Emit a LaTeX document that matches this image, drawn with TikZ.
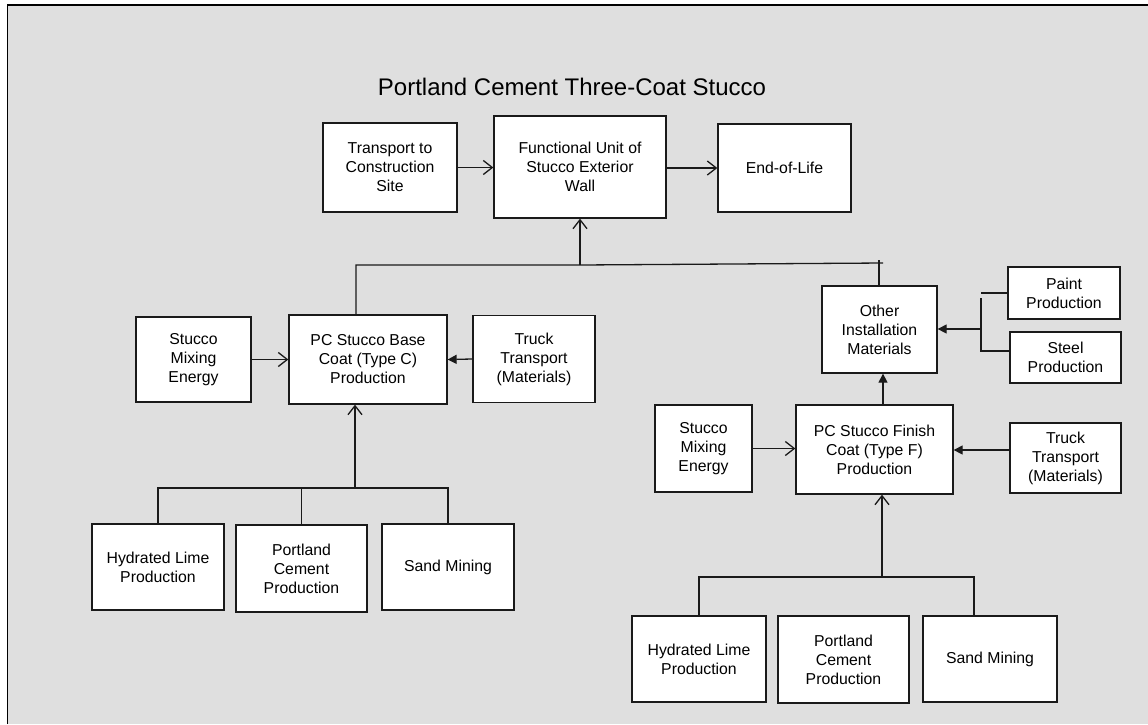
\documentclass[tikz,border=0pt]{standalone}
\usepackage{fontspec}
\setmainfont{Liberation Sans}
\usetikzlibrary{arrows.meta}
\definecolor{bggray}{HTML}{DFDFDF}
\definecolor{linec}{HTML}{1A1A1A}
\begin{document}
\begin{tikzpicture}[x=1pt,y=-1pt,
  box/.style={draw=linec,fill=white,line width=1.3pt,align=center,inner sep=0pt,
    font=\fontsize{15.8}{19}\selectfont},
  conn/.style={draw=linec,line width=1.3pt},
  openarr/.style={conn,-{Straight Barb[length=9pt,width=14pt,line width=1.3pt]}},
  fillarr/.style={conn,-{Triangle[length=9pt,width=9pt]}}]
\useasboundingbox (0,0) rectangle (1148,724);
\fill[white] (0,0) rectangle (1148,724);
\fill[bggray] (7.5,5) rectangle (1148,724);
\draw[black,line width=1.6pt] (7.5,724) -- (7.5,5) -- (1148,5);

\node[font=\fontsize{24}{28}\selectfont,inner sep=0pt] (title) at (572,87) {Portland Cement Three-Coat Stucco};

% top row
\node[box,minimum width=134pt,minimum height=89pt] (tcs) at (390,167.5) {Transport to\\Construction\\Site};
\node[box,minimum width=172pt,minimum height=102pt] (fu) at (580,167) {Functional Unit of\\Stucco Exterior\\Wall};
\node[box,minimum width=133pt,minimum height=88pt] (eol) at (784.5,168) {End-of-Life};

% left middle
\node[box,minimum width=115pt,minimum height=85pt] (smeL) at (193.5,359.5) {Stucco\\Mixing\\Energy};
\node[box,minimum width=158pt,minimum height=89pt] (base) at (368,359.5) {PC Stucco Base\\Coat (Type C)\\Production};
\node[box,minimum width=122pt,minimum height=87pt] (truckL) at (534,359) {Truck\\Transport\\(Materials)};

% left bottom
\node[box,minimum width=132pt,minimum height=86pt] (hlL) at (158,567) {Hydrated Lime\\Production};
\node[box,minimum width=131pt,minimum height=87pt] (pcL) at (301.5,568.5) {Portland\\Cement\\Production};
\node[box,minimum width=132pt,minimum height=86pt] (smL) at (448,567) {Sand Mining};

% right upper
\node[box,minimum width=115pt,minimum height=87pt] (other) at (879.5,329.5) {Other\\Installation\\Materials};
\node[box,minimum width=112pt,minimum height=52pt] (paint) at (1064,293) {Paint\\Production};
\node[box,minimum width=111pt,minimum height=51pt] (steel) at (1065.5,357.5) {Steel\\Production};

% right middle
\node[box,minimum width=97pt,minimum height=87pt] (smeR) at (703.5,448.5) {Stucco\\Mixing\\Energy};
\node[box,minimum width=157pt,minimum height=89pt] (finish) at (874.5,449.5) {PC Stucco Finish\\Coat (Type F)\\Production};
\node[box,minimum width=111pt,minimum height=70pt] (truckR) at (1065.5,458) {Truck\\Transport\\(Materials)};

% right bottom
\node[box,minimum width=134pt,minimum height=86pt] (hlR) at (699,659) {Hydrated Lime\\Production};
\node[box,minimum width=131pt,minimum height=87pt] (pcR) at (843.5,659.5) {Portland\\Cement\\Production};
\node[box,minimum width=134pt,minimum height=86pt] (smR) at (990,659) {Sand Mining};

% top connectors
\draw[openarr] (tcs.east) -- (fu.west |- tcs.east);
\draw[openarr] (fu.east |- eol.west) -- (eol.west);

\coordinate (tl) at (356,265);
\coordinate (tm) at (580,265);
\coordinate (tr) at (879,264);
\draw[conn] (tl |- base.north) -- (tl) -- (tm) -- (883,263);
\draw[conn] (879,260) -- (tr |- other.north);
\draw[openarr] (tm) -- (fu.south);

% left middle connectors
\draw[openarr] (smeL.east) -- (base.west);
\draw[fillarr] (truckL.west) -- (base.east);

% left bottom connectors
\coordinate (jL) at (355,488);
\draw[conn] (hlL.north) -- (hlL.north |- jL) -- (smL.north |- jL) -- (smL.north);
\draw[conn] (pcL.north) -- (pcL.north |- jL);
\draw[openarr] (jL) -- (jL |- base.south);

% right upper connectors
\coordinate (bk) at (981,329);
\coordinate (bs) at (981,351);
\draw[conn] (paint.west) -- (paint.west -| bk);
\draw[conn] (981,298) -- (bs) -- (bs -| steel.west);
\draw[fillarr] (bk) -- (bk -| other.east);
\coordinate (fo) at (883,403);
\draw[fillarr] (fo |- finish.north) -- (fo |- other.south);

% right middle connectors
\draw[openarr] (smeR.east) -- (smeR.east -| finish.west);
\draw[fillarr] (truckR.west |- 0,450) -- (finish.east |- 0,450);

% right bottom connectors
\coordinate (jR) at (882,577);
\coordinate (jRr) at (974,577);
\draw[conn] (hlR.north) -- (hlR.north |- jR) -- (jRr) -- (jRr |- smR.north);
\draw[openarr] (jR) -- (jR |- finish.south);
\end{tikzpicture}
\end{document}
